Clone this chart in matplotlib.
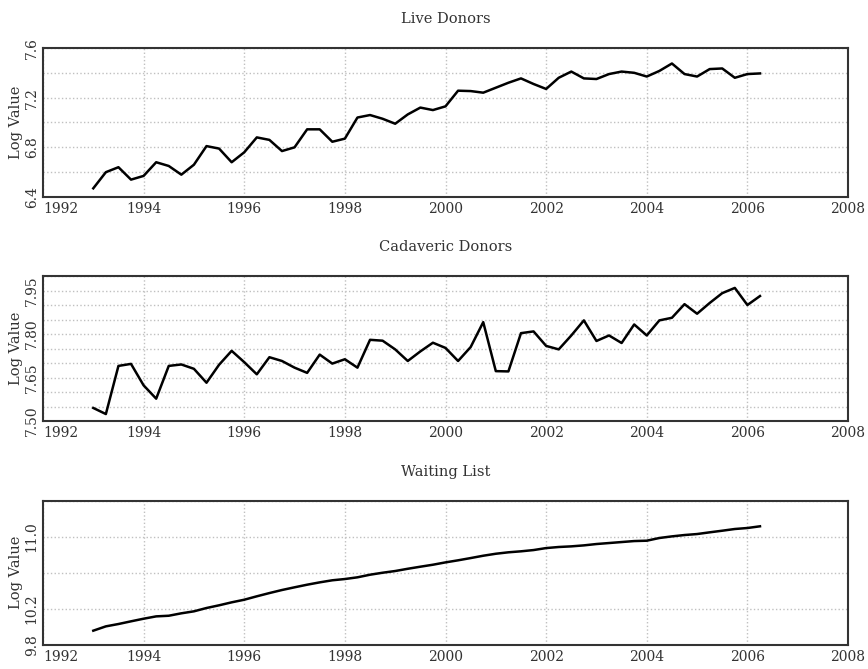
import numpy as np
import matplotlib
matplotlib.use("Agg")
import matplotlib.pyplot as plt

plt.rcParams['font.family'] = ['DejaVu Serif']

# quarterly observations, 1993 Q1 .. 2006 Q2
years = 1993 + 0.25 * np.arange(54)

live_donors = [6.47, 6.60, 6.64, 6.54, 6.57, 6.68, 6.65, 6.58, 6.66, 6.81,
               6.79, 6.68, 6.76, 6.88, 6.86, 6.77, 6.80, 6.945, 6.945, 6.845,
               6.87, 7.04, 7.06, 7.03, 6.99, 7.065, 7.12, 7.10, 7.13, 7.256,
               7.253, 7.24, 7.28, 7.32, 7.355, 7.31, 7.27, 7.36, 7.41, 7.355,
               7.35, 7.39, 7.41, 7.40, 7.37, 7.415, 7.475, 7.39, 7.37, 7.43,
               7.435, 7.36, 7.39, 7.395]

cadaveric_donors = [7.545, 7.524, 7.69, 7.697, 7.623, 7.577, 7.69, 7.695, 7.68, 7.632,
                    7.694, 7.742, 7.703, 7.661, 7.72, 7.707, 7.684, 7.666, 7.729, 7.698,
                    7.713, 7.684, 7.78, 7.777, 7.747, 7.707, 7.74, 7.77, 7.752, 7.707,
                    7.755, 7.841, 7.672, 7.671, 7.803, 7.809, 7.759, 7.747, 7.795, 7.847,
                    7.776, 7.795, 7.769, 7.833, 7.795, 7.847, 7.856, 7.903, 7.87, 7.907,
                    7.941, 7.959, 7.90, 7.931]

waiting_list = [9.956, 10.004, 10.03, 10.06, 10.089, 10.115, 10.122, 10.149, 10.171, 10.208,
                10.238, 10.271, 10.30, 10.338, 10.374, 10.408, 10.438, 10.467, 10.493, 10.516,
                10.53, 10.549, 10.578, 10.60, 10.619, 10.644, 10.667, 10.689, 10.715, 10.738,
                10.763, 10.789, 10.811, 10.827, 10.838, 10.852, 10.874, 10.886, 10.893, 10.904,
                10.919, 10.93, 10.941, 10.952, 10.956, 10.986, 11.004, 11.019, 11.03, 11.049,
                11.067, 11.086, 11.097, 11.116]

titles = ["Live Donors", "Cadaveric Donors", "Waiting List"]
series = [live_donors, cadaveric_donors, waiting_list]

y_ticks = [[6.4, 6.6, 6.8, 7.0, 7.2, 7.4, 7.6],
           [7.50, 7.55, 7.60, 7.65, 7.70, 7.75, 7.80, 7.85, 7.90, 7.95, 8.00],
           [9.8, 10.2, 10.6, 11.0, 11.4]]
y_labels = [["6.4", "", "6.8", "", "7.2", "", "7.6"],
            ["7.50", "", "", "7.65", "", "", "7.80", "", "", "7.95", ""],
            ["9.8", "10.2", "", "11.0", ""]]
x_ticks = list(range(1992, 2009, 2))

fig = plt.figure(figsize=(8.68, 6.69), dpi=100)

boxes = [[0.0495, 0.7055, 0.9275, 0.2228],
         [0.0495, 0.3707, 0.9275, 0.2167],
         [0.0495, 0.0363, 0.9275, 0.2152]]

for box, title, vals, yt, yl in zip(boxes, titles, series, y_ticks, y_labels):
    ax = fig.add_axes(box)
    ax.plot(years, vals, color='black', lw=1.8)
    ax.set_xlim(1992, 2008)
    ax.set_ylim(yt[0], yt[-1])
    ax.set_xticks(x_ticks)
    ax.set_xticklabels([str(t) for t in x_ticks])
    # first year label sits to the right of its tick, clear of the y labels
    ax.get_xticklabels()[0].set_ha('left')
    ax.set_yticks(yt)
    ax.set_yticklabels(yl, rotation=90, va='center')
    ax.tick_params(length=0, labelsize=10, colors='#333333')
    ax.tick_params(axis='y', pad=3)
    ax.grid(True, linestyle=':', color='#c0c0c0', lw=1.0)
    for sp in ax.spines.values():
        sp.set_color('#333333')
        sp.set_linewidth(1.5)
    ax.set_title(title, fontsize=10.5, color='#333333', pad=18)
    ax.set_ylabel("Log Value", fontsize=10.5, color='#333333', labelpad=1)

fig.savefig("out.png", dpi=100)
